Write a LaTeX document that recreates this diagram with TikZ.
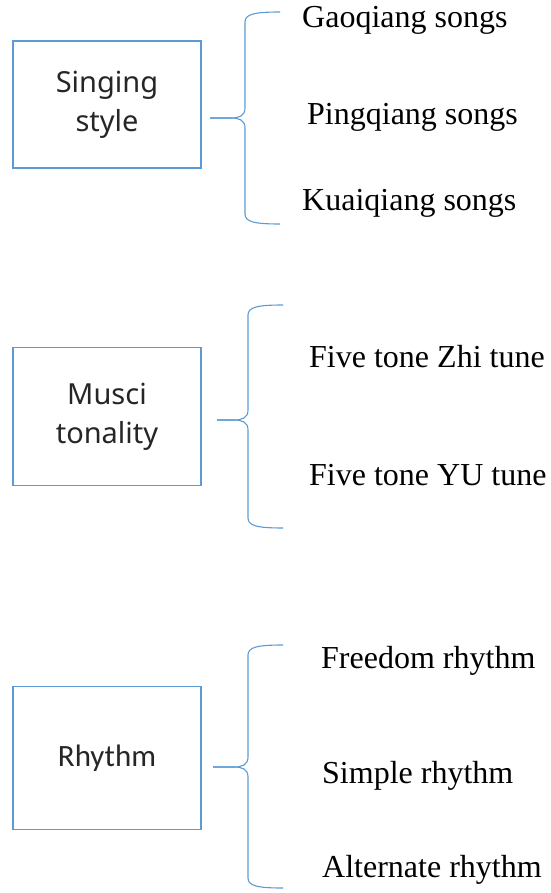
\documentclass[tikz,border=0pt]{standalone}
\usepackage{fontspec}
\setmainfont{Liberation Serif}
\newfontfamily\boxfont{Noto Sans}
\newfontfamily\calfont{Carlito}
\usetikzlibrary{positioning}
\definecolor{boxblue}{RGB}{91,155,213}
\tikzset{category/.style={
          draw=boxblue,
          line width=1.3pt,
          rectangle,
          minimum width=188pt,
          align=center,
          font=\boxfont\fontsize{29}{39}\selectfont,
          text=black!85
     }}
\tikzset{item/.style={
        anchor=base west,
        inner sep=0pt,
        font=\fontsize{32}{36}\selectfont
    }}
\tikzset{curly/.style={draw=boxblue, line width=1.1pt}}
% tip x, tip y, spine x, top y, bottom y
\newcommand{\curlybrace}[5]{%
  \draw[curly] ({#3+35},#4) .. controls ({#3+10},#4) and (#3,{#4+2}) .. (#3,{#4+10})
    -- (#3,{#2-10}) .. controls (#3,{#2-2}) and ({#3-6},#2) .. ({#3-14},#2) -- (#1,#2);
  \draw[curly] (#1,#2) -- ({#3-14},#2) .. controls ({#3-6},#2) and (#3,{#2+2}) .. (#3,{#2+10})
    -- (#3,{#5-10}) .. controls (#3,{#5-2}) and ({#3+10},#5) .. ({#3+35},#5);
}

\begin{document}
\begin{tikzpicture}[x=1pt,y=-1pt]
\useasboundingbox (0,0) rectangle (550,893);

\node (style) [category, minimum height=127pt] at (107,104.5) {Singing\\style};
\node (tonal) [category, minimum height=138pt, below=178pt of style] {Musci\\tonality};
\node (rhythm) [category, minimum height=143pt, below=200pt of tonal, font=\calfont\fontsize{31}{36}\selectfont] {Rhythm};

\curlybrace{210}{118}{245}{12}{224}
\curlybrace{217}{420}{248}{305}{528}
\curlybrace{213}{767}{248}{645}{888}

\node (gao) [item] at (302,28) {Gaoqiang songs};
\node (ping) [item] at (307,125) {Pingqiang songs};
\node (kuai) [item] at (302,211) {Kuaiqiang songs};
\node (zhi) [item] at (309,367) {Five tone Zhi tune};
\node (yu) [item] at (309,485) {Five tone YU tune};
\node (free) [item] at (321,668) {Freedom rhythm};
\node (simple) [item] at (322,783) {Simple rhythm};
\node (alt) [item] at (322,877) {Alternate rhythm};
\end{tikzpicture}
\end{document}
